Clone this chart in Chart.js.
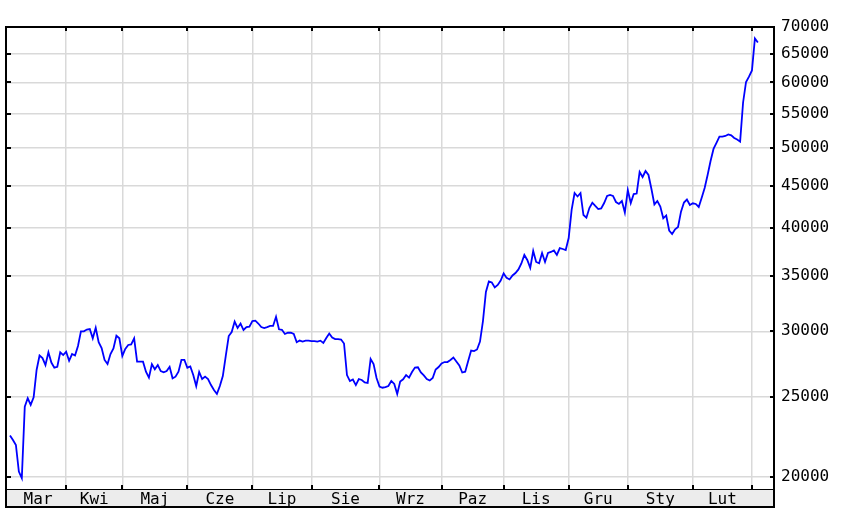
<!DOCTYPE html>
<html>
<head>
<meta charset="utf-8">
<script src="https://cdn.jsdelivr.net/npm/chart.js@4.4.1/dist/chart.umd.min.js"></script>
<style>
  html, body { margin: 0; padding: 0; background: #fff; }
  #wrap { width: 841px; height: 508px; position: relative; }
</style>
</head>
<body>
<div id="wrap"><canvas id="chart"></canvas></div>
<script>
// month names on the bottom strip
var monthNames = ['Mar', 'Kwi', 'Maj', 'Cze', 'Lip', 'Sie', 'Wrz', 'Paz', 'Lis', 'Gru', 'Sty', 'Lut'];
// index of the first session of each month (Kwi .. Mar)
var monthStarts = [19, 38, 60, 82, 102, 125, 146, 167, 189, 209, 231, 251];
var yTicks = [20000, 25000, 30000, 35000, 40000, 45000, 50000, 55000, 60000, 65000, 70000];

// closing prices, one per session
var prices = [
  22450, 22170, 21860, 20300, 19930, 24320, 24900, 24440, 24970, 26940, 28050, 27850, 27310, 28300, 27500, 27110, 27180, 28300, 28080,
  28340, 27640, 28160, 28050, 28800, 30000, 30000, 30150, 30190, 29420, 30300, 29100, 28640, 27700, 27390, 28160, 28610, 29630, 29420,
  28010, 28560, 28880, 28930, 29420, 27570, 27570, 27570, 26810, 26370, 27370, 26990, 27310, 26860, 26760, 26860, 27180, 26320, 26440, 26810, 27700, 27700,
  27110, 27200, 26560, 25760, 26790, 26270, 26450, 26270, 25830, 25480, 25200, 25760, 26490, 28010, 29610, 29940, 30830, 30280, 30660, 30110, 30360, 30390,
  30870, 30900, 30660, 30360, 30280, 30360, 30450, 30450, 31240, 30170, 30130, 29780, 29880, 29880, 29780, 29100, 29240, 29160, 29230, 29230,
  29200, 29200, 29160, 29230, 29040, 29450, 29820, 29490, 29360, 29360, 29320, 29000, 26560, 26120, 26230, 25830, 26270, 26200, 26020, 25980, 27770, 27390, 26340,
  25730, 25640, 25690, 25760, 26120, 25910, 25200, 26090, 26250, 26560, 26370, 26790, 27120, 27140, 26750, 26530, 26270, 26160, 26340, 26970, 27160,
  27430, 27540, 27540, 27700, 27890, 27580, 27280, 26750, 26810, 27620, 28440, 28390, 28520, 29160, 30870, 33480, 34470, 34370, 33900, 34130, 34560,
  35240, 34810, 34660, 35050, 35290, 35640, 36240, 37110, 36590, 35790, 37520, 36390, 36260, 37310, 36390, 37310, 37420, 37570, 37110, 37830, 37730, 37620,
  38900, 42060, 44090, 43670, 44090, 41470, 41160, 42290, 42920, 42530, 42170, 42250, 42880, 43730, 43850, 43730, 43000, 42770, 43120, 41760,
  44460, 42880, 43970, 44030, 46750, 46100, 46880, 46360, 44590, 42710, 43120, 42470, 41090, 41420, 39720, 39340, 39860, 40110, 41860, 42940, 43300, 42650,
  42850, 42770, 42410, 43520, 44710, 46360, 48210, 49850, 50690, 51580, 51580, 51680, 51900, 51760, 51400, 51180, 50870, 56730, 60070, 60960,
  62020, 67800, 67040
];

var X_MIN = -1.35;
var X_MAX = 258.46;
var GRID = '#d9d9d9';
var FONT = { family: 'DejaVu Sans Mono', size: 16 };

// grey strip under the plot, black frame and small inner tick marks
var framePlugin = {
  id: 'frame',
  beforeDraw: function(chart) {
    var ctx = chart.ctx;
    var area = chart.chartArea;
    ctx.save();
    ctx.fillStyle = '#ececec';
    ctx.fillRect(area.left, area.bottom, area.right - area.left, chart.height - area.bottom);
    ctx.restore();
  },
  afterDraw: function(chart) {
    var ctx = chart.ctx;
    var area = chart.chartArea;
    var xs = chart.scales.x;
    var ys = chart.scales.y;
    ctx.save();
    ctx.strokeStyle = '#000';
    ctx.lineWidth = 2;
    ctx.strokeRect(area.left, area.top, area.right - area.left, chart.height - 1 - area.top);

    ctx.lineWidth = 1;
    ctx.beginPath();
    ctx.moveTo(area.left, area.bottom + 0.5);
    ctx.lineTo(area.right, area.bottom + 0.5);
    ctx.stroke();

    ctx.lineWidth = 2;
    ctx.beginPath();
    monthStarts.forEach(function(v) {
      var px = Math.round(xs.getPixelForValue(v));
      ctx.moveTo(px, area.top);
      ctx.lineTo(px, area.top + 4);
      ctx.moveTo(px, area.bottom - 4);
      ctx.lineTo(px, area.bottom);
    });
    yTicks.forEach(function(v) {
      var py = Math.round(ys.getPixelForValue(v));
      ctx.moveTo(area.left, py);
      ctx.lineTo(area.left + 5, py);
      ctx.moveTo(area.right - 4, py);
      ctx.lineTo(area.right, py);
    });
    ctx.stroke();
    ctx.restore();
  }
};

function init() {
  var points = prices.map(function(v, i) { return { x: i, y: v }; });

  // label positions: middle of each month
  var bounds = [0].concat(monthStarts);
  var mids = [];
  for (var i = 0; i < bounds.length - 1; i++) {
    mids.push((bounds[i] + bounds[i + 1]) / 2);
  }

  new Chart(document.getElementById('chart'), {
    type: 'line',
    data: {
      datasets: [{
        data: points,
        borderColor: '#0000ff',
        borderWidth: 1.8,
        pointRadius: 0,
        tension: 0,
        fill: false
      }]
    },
    options: {
      responsive: true,
      maintainAspectRatio: false,
      animation: false,
      layout: { padding: { left: 6, top: 27, right: 0, bottom: 0 } },
      plugins: { legend: { display: false }, tooltip: { enabled: false } },
      scales: {
        x: {
          type: 'linear', position: 'bottom', min: X_MIN, max: X_MAX,
          afterBuildTicks: function(scale) {
            scale.ticks = monthStarts.map(function(v) { return { value: v }; });
          },
          afterFit: function(scale) { scale.height = 0; },
          ticks: { display: false },
          border: { display: false },
          grid: { color: GRID, lineWidth: 1.5, drawTicks: false }
        },
        xm: {
          type: 'linear', position: 'bottom', min: X_MIN, max: X_MAX,
          afterBuildTicks: function(scale) {
            scale.ticks = mids.map(function(v) { return { value: v }; });
          },
          afterFit: function(scale) { scale.height = 19; },
          border: { display: false },
          grid: { display: false, drawTicks: false },
          ticks: {
            autoSkip: false, maxRotation: 0, padding: 1, color: '#000', font: FONT,
            callback: function(v, i) { return monthNames[i]; }
          }
        },
        y: {
          type: 'logarithmic', position: 'right', min: 19340, max: 70000,
          afterBuildTicks: function(scale) {
            scale.ticks = yTicks.map(function(v) { return { value: v }; });
          },
          afterFit: function(scale) { scale.width = 67; },
          border: { display: false },
          grid: { color: GRID, lineWidth: 1.5, drawTicks: false },
          ticks: {
            autoSkip: false, padding: 7, color: '#000', font: FONT,
            callback: function(v) { return String(v); }
          }
        }
      }
    },
    plugins: [framePlugin]
  });
}

init();
</script>
</body>
</html>
